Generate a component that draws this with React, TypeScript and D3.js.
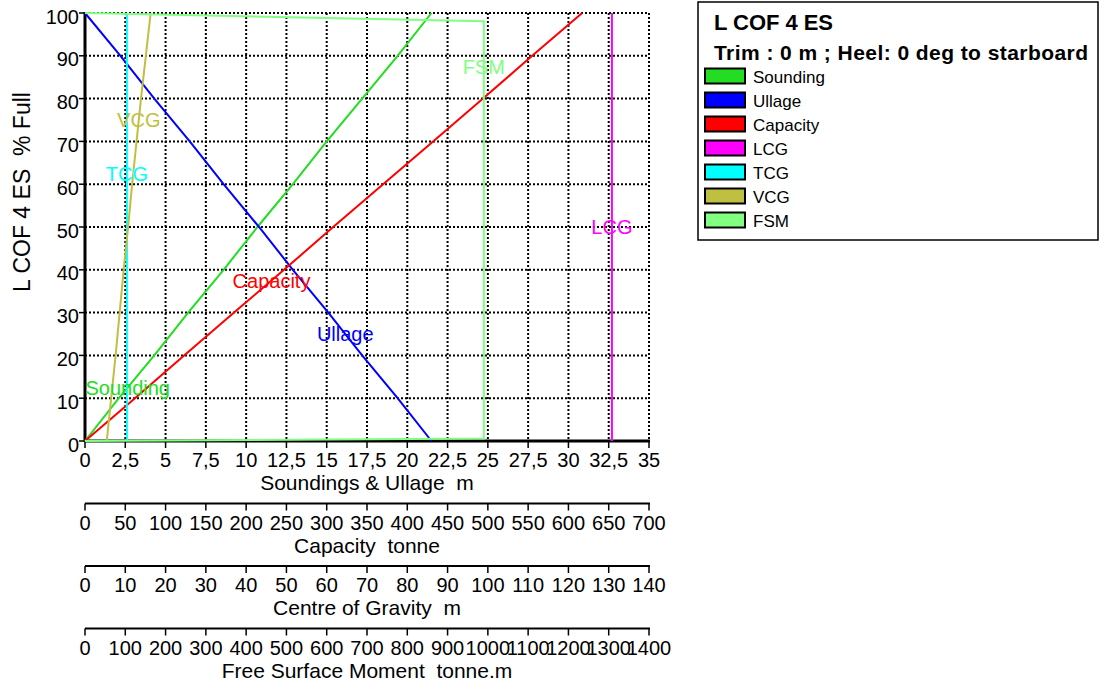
import React from 'react';
import * as d3 from 'd3';

// % full levels at which the tank table was read
const pctFull = [0, 10, 20, 30, 40, 50, 60, 70, 80, 90, 100];

// series values (per pctFull level)
const sounding = [0, 2.1, 4.3, 6.4, 8.6, 10.7, 12.9, 15.0, 17.2, 19.4, 21.5];
const ullage = [21.5, 19.4, 17.2, 15.1, 12.9, 10.8, 8.6, 6.5, 4.3, 2.2, 0];
const capacity = [0, 62, 123, 185, 247, 308, 370, 432, 494, 555, 617];
const lcg = [130.8, 130.8, 130.8, 130.8, 130.8, 130.8, 130.8, 130.8, 130.8, 130.8, 130.8];
const tcg = [10.4, 10.4, 10.4, 10.4, 10.4, 10.4, 10.4, 10.4, 10.4, 10.4, 10.4];
const vcg = [5.4, 6.5, 7.6, 8.6, 9.6, 10.7, 11.7, 12.8, 13.9, 15.1, 16.3];

// free surface moment has its own break points
const fsmPct = [0, 0.6, 98.1, 100];
const fsm = [0, 990, 990, 0];

// tick values
const pctTicks = [0, 10, 20, 30, 40, 50, 60, 70, 80, 90, 100];
const soundTicks = [0, 2.5, 5, 7.5, 10, 12.5, 15, 17.5, 20, 22.5, 25, 27.5, 30, 32.5, 35];
const capTicks = [0, 50, 100, 150, 200, 250, 300, 350, 400, 450, 500, 550, 600, 650, 700];
const cogTicks = [0, 10, 20, 30, 40, 50, 60, 70, 80, 90, 100, 110, 120, 130, 140];
const fsmTicks = [0, 100, 200, 300, 400, 500, 600, 700, 800, 900, 1000, 1100, 1200, 1300, 1400];

const FONT = '"Liberation Sans", Arial, sans-serif';

const left = 85,
  right = 649,
  top = 13,
  bottom = 441;

const y = d3.scaleLinear().domain([0, 100]).range([bottom, top]);
const xSound = d3.scaleLinear().domain([0, 35]).range([left, right]);
const xCap = d3.scaleLinear().domain([0, 700]).range([left, right]);
const xCog = d3.scaleLinear().domain([0, 140]).range([left, right]);
const xFsm = d3.scaleLinear().domain([0, 1400]).range([left, right]);

const series = [
  { name: 'Sounding', color: '#22dd22', values: sounding, pcts: pctFull, x: xSound },
  { name: 'Ullage', color: '#0000ff', values: ullage, pcts: pctFull, x: xSound },
  { name: 'Capacity', color: '#ff0000', values: capacity, pcts: pctFull, x: xCap },
  { name: 'LCG', color: '#ff00ff', values: lcg, pcts: pctFull, x: xCog },
  { name: 'TCG', color: '#00ffff', values: tcg, pcts: pctFull, x: xCog },
  { name: 'VCG', color: '#c0c040', values: vcg, pcts: pctFull, x: xCog },
  { name: 'FSM', color: '#80ff80', values: fsm, pcts: fsmPct, x: xFsm },
];

const fmt = (v: number) => String(v).replace('.', ',');

const lowerAxes = [
  { ticks: soundTicks, scale: xSound, title: 'Soundings & Ullage  m', y: 441 },
  { ticks: capTicks, scale: xCap, title: 'Capacity  tonne', y: 503.5 },
  { ticks: cogTicks, scale: xCog, title: 'Centre of Gravity  m', y: 566 },
  { ticks: fsmTicks, scale: xFsm, title: 'Free Surface Moment  tonne.m', y: 628.5 },
];

export default function App() {
  return (
    <svg
      width={1100}
      height={686}
      style={{ position: 'absolute', left: 0, top: 0, background: '#fff' }}
      fontFamily={FONT}
    >
      {/* grid */}
      <g stroke="#000" strokeWidth={2} strokeDasharray="2 2">
        {soundTicks.map((t) => (
          <line key={'gx' + t} x1={xSound(t)} x2={xSound(t)} y1={top} y2={bottom} />
        ))}
        {pctTicks.map((t) => (
          <line key={'gy' + t} x1={left} x2={right} y1={y(t)} y2={y(t)} />
        ))}
      </g>

      {/* y axis */}
      <line x1={left} x2={left} y1={top - 1} y2={bottom + 1} stroke="#000" strokeWidth={3} />
      {pctTicks.map((t) => (
        <g key={'yt' + t}>
          <line x1={left - 6} x2={left} y1={y(t)} y2={y(t)} stroke="#000" strokeWidth={1.5} />
          <text x={left - 6} y={y(t) + 10.5} textAnchor="end" fontSize={20}>
            {t}
          </text>
        </g>
      ))}
      <text
        transform={`translate(30,${192}) rotate(-90)`}
        textAnchor="middle"
        fontSize={23}
        style={{ whiteSpace: 'pre' }}
      >
        L COF 4 ES  % Full
      </text>

      {/* bottom axes */}
      {lowerAxes.map((a, i) => (
        <g key={'ax' + i}>
          <line
            x1={left}
            x2={right + 1}
            y1={a.y}
            y2={a.y}
            stroke="#000"
            strokeWidth={i === 0 ? 3 : 2}
          />
          {a.ticks.map((t) => (
            <g key={t}>
              <line
                x1={a.scale(t)}
                x2={a.scale(t)}
                y1={a.y}
                y2={a.y + 7}
                stroke="#000"
                strokeWidth={1.5}
              />
              <text x={a.scale(t)} y={a.y + 26} textAnchor="middle" fontSize={20}>
                {fmt(t)}
              </text>
            </g>
          ))}
          <text
            x={(left + right) / 2}
            y={a.y + 49}
            textAnchor="middle"
            fontSize={21}
            style={{ whiteSpace: 'pre' }}
          >
            {a.title}
          </text>
        </g>
      ))}

      {/* series lines */}
      {series.map((s) => {
        const line = d3
          .line<number>()
          .x((v) => s.x(v))
          .y((_, i) => y(s.pcts[i]));
        return (
          <path key={s.name} d={line(s.values) || ''} fill="none" stroke={s.color} strokeWidth={2} />
        );
      })}

      {/* series labels, evenly spaced up the % full axis */}
      {series.map((s, i) => {
        const p = (i + 1) * 12.5;
        const at = d3.scaleLinear().domain(s.pcts).range(s.values);
        return (
          <text
            key={'lb' + s.name}
            x={s.x(at(p))}
            y={y(p) + 7}
            textAnchor="middle"
            fontSize={20}
            fill={s.color}
          >
            {s.name}
          </text>
        );
      })}

      {/* legend */}
      <rect x={698} y={2} width={400} height={238} fill="#fff" stroke="#000" strokeWidth={1.5} />
      <text x={714} y={30} fontSize={22} fontWeight="bold" textLength={119} lengthAdjust="spacing">
        L COF 4 ES
      </text>
      <text x={714} y={60} fontSize={21} fontWeight="bold" textLength={374} lengthAdjust="spacing">
        Trim : 0 m ; Heel: 0 deg to starboard
      </text>
      {series.map((s, i) => {
        const cy = 75.5 + i * 24;
        return (
          <g key={'lg' + s.name}>
            <rect x={705} y={cy - 7} width={40} height={15} fill={s.color} stroke="#000" strokeWidth={2} />
            <text x={753} y={cy + 7} fontSize={17}>
              {s.name}
            </text>
          </g>
        );
      })}
    </svg>
  );
}
